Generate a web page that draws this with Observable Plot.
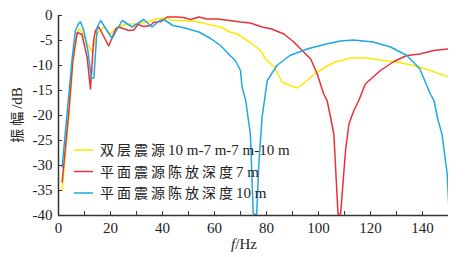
<!DOCTYPE html>
<html><head><meta charset="utf-8">
<script src="https://cdn.jsdelivr.net/npm/d3@7"></script>
<script src="https://cdn.jsdelivr.net/npm/@observablehq/plot@0.6"></script>
<style>
body{margin:0;background:#fff;}
#wrap{position:relative;width:469px;height:257px;overflow:hidden;}
</style></head><body><div id="wrap"></div>
<script>
// 双层震源10 m-7 m-7 m-10 m
const fYellow = [1.4,4,5.5,7,7.8,8.7,11,13,15,17.4,20,22.6,26.4,30.3,34,38,41.8,43,47,53,57,62.3,66,68.7,73.5,77.7,79.6,82.8,86,89,91.8,95.6,99.5,103,106.5,112.3,118.7,125,130,136.7,143,150];
const dbYellow = [-35,-20,-10,-4,-2.7,-3,-5.5,-7.3,-3.5,-2.3,-3.6,-2.3,-1.7,-1.7,-1.3,-0.7,-0.4,-0.9,-1,-1.2,-1.7,-2.3,-3.3,-3.7,-5.3,-7,-8.7,-10.2,-13.3,-14,-14.5,-13,-11.3,-10.2,-9.3,-8.5,-8.5,-9,-9.3,-10,-11,-12.3];
// 平面震源陈放深度7 m
const fRed = [1.4,4,5.5,7.2,9,11,12.3,13.5,14.2,15.5,19.3,22,23.2,27,29,30.5,32.8,35.4,36.5,39.5,41.8,45.6,48.2,50.8,54,57,61,66,70,73.8,78.3,82,86.7,90.5,93.7,97,99.5,102,103.3,104.5,105.9,107.5,108.5,110.4,111.7,113.6,115.5,118,123.8,129,134,139,144.3,150];
const dbRed = [-33.3,-19,-9,-3.4,-3.8,-8.3,-14.7,-5,-3,-2.3,-6.1,-2.7,-2.3,-3,-2.9,-1.8,-2.2,-2,-1.4,-1.2,-0.3,-0.3,-0.4,-0.8,-0.3,-0.7,-0.7,-1,-1.3,-1.5,-2.3,-2.7,-3.7,-5.3,-7,-8.7,-11.7,-15.7,-17,-20,-23.7,-39.7,-39.7,-27,-21.7,-19,-17,-13.7,-11,-9.2,-8,-7.7,-7,-6.7];
// 平面震源陈放深度10 m
const fBlue = [1.4,5.3,6.5,7.8,8.5,9.7,11.3,12.6,13.6,14.9,16.2,20.6,24.5,28.3,32.8,36,39,40.5,44,47,50,54,58.5,62.3,66,68,70,70.6,72,73.8,74.9,76.2,77,78.3,80.3,84,89,95.6,103,108.5,113.5,121,127.7,134,139,143,144.4,146,147.5,149.5,150.3];
const dbBlue = [-30.3,-8.3,-3,-1.5,-1.3,-3,-7,-12.5,-12.5,-2.3,-1,-4.6,-1,-2.3,-0.8,-2.3,-1,-0.8,-2,-2.3,-2.7,-3.3,-4.6,-6,-8,-9,-11,-14.3,-17,-23.7,-39.6,-40,-30.3,-20.3,-13,-10,-8,-6.7,-5.7,-5.1,-4.9,-5.3,-6.3,-8,-10.7,-15.7,-17,-21,-23.7,-31.7,-40];

const seriesNames = ["双层震源10 m-7 m-7 m-10 m","平面震源陈放深度7 m","平面震源陈放深度10 m"];
const seriesColors = ["#FFE800","#E6323A","#1FA8E1"];
const xTickValues = [0,20,40,60,80,100,120,140];
const xMinorTicks = [10,30,50,70,90,110,130];
const yTickValues = [0,-5,-10,-15,-20,-25,-30,-35,-40];
const xLabel = ["f","/Hz"];
const yLabel = "振幅/dB";

const rows = [];
[[fYellow,dbYellow],[fRed,dbRed],[fBlue,dbBlue]].forEach(([fs,ds],i)=>{
  fs.forEach((f,j)=>rows.push({f, db: ds[j], s: seriesNames[i]}));
});

const serif = "'Liberation Serif','Noto Sans CJK SC',serif";
const W = 469, H = 257;
const chart = Plot.plot({
  width: W, height: H,
  marginLeft: 58, marginRight: 21, marginTop: 15, marginBottom: 42,
  style: {fontFamily: serif, fontSize: "15px", color: "#222", background: "#fff"},
  x: {domain: [0,150]},
  y: {domain: [-40,0]},
  color: {domain: seriesNames, range: seriesColors},
  marks: [
    Plot.line(rows, {x: "f", y: "db", stroke: "s", z: "s", strokeWidth: 1.5, clip: true}),
    Plot.ruleX([0], {stroke: "#333", strokeWidth: 1.5}),
    Plot.ruleY([-40], {stroke: "#333", strokeWidth: 1.5}),
    Plot.axisX({ticks: xTickValues, tickSize: -4, tickPadding: 11, tickFormat: d => String(d), label: null, stroke:"#333"}),
    Plot.axisX({ticks: xMinorTicks, tickSize: -4, tickFormat: () => "", label: null, stroke:"#333"}),
    Plot.axisY({ticks: yTickValues, tickSize: -4, tickPadding: 10, tickFormat: d => String(d), label: null, stroke:"#333"})
  ]
});
document.getElementById("wrap").appendChild(chart);

const svg = d3.select(chart);
// y label
const yl = svg.append("text")
  .attr("transform", `translate(22,${(15 + (H-42))/2}) rotate(-90)`)
  .attr("text-anchor","middle").attr("font-size", 15).attr("fill","#222");
appendRuns(yl, yLabel, 15);
// x label
const xl = svg.append("text").attr("x", 244).attr("y", 249).attr("text-anchor","middle")
  .attr("font-size", 15).attr("fill","#222").attr("font-family", serif);
xl.append("tspan").attr("font-style","italic").text(xLabel[0]);
xl.append("tspan").text(xLabel[1]);

// legend
const legY = [150, 171.5, 193];
seriesNames.forEach((name,i)=>{
  svg.append("line").attr("x1",74).attr("x2",93).attr("y1",legY[i]).attr("y2",legY[i])
    .attr("stroke",seriesColors[i]).attr("stroke-width",1.5);
  const t = svg.append("text").attr("x",100).attr("y",legY[i]+5).attr("font-size",15)
    .attr("text-anchor","start").attr("fill","#222");
  appendRuns(t, name, 15);
});

function appendRuns(sel, str, size){
  const runs = str.match(/[\u3400-\u9fff]+|[^\u3400-\u9fff]+/g);
  runs.forEach(r=>{
    const cjk = /[\u3400-\u9fff]/.test(r);
    sel.append("tspan").attr("font-family", cjk ? "'Noto Sans CJK SC'" : "'Liberation Serif'")
      .attr("font-size", cjk ? size-1 : size)
      .attr("letter-spacing", cjk ? 3 : 0).text(r);
  });
}
</script></body></html>
